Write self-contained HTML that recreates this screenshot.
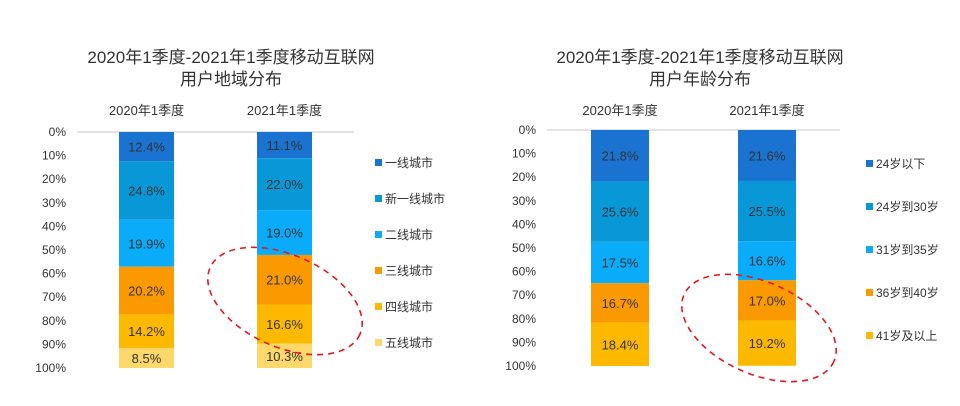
<!DOCTYPE html>
<html><head><meta charset="utf-8">
<style>
html,body{margin:0;padding:0;background:#fff;}
svg{display:block;font-family:"Liberation Sans","Noto Sans CJK SC",sans-serif;}
</style></head>
<body>
<svg id="c" width="960" height="406" viewBox="0 0 960 406" xmlns="http://www.w3.org/2000/svg"></svg>
<script>
const ticks = ["0%","10%","20%","30%","40%","50%","60%","70%","80%","90%","100%"];
const categories = ["2020年1季度","2021年1季度"];
const regionSeries = ["一线城市","新一线城市","二线城市","三线城市","四线城市","五线城市"];
const region2020 = [12.4,24.8,19.9,20.2,14.2,8.5];
const region2021 = [11.1,22.0,19.0,21.0,16.6,10.3];
const ageSeries = ["24岁以下","24岁到30岁","31岁到35岁","36岁到40岁","41岁及以上"];
const age2020 = [21.8,25.6,17.5,16.7,18.4];
const age2021 = [21.6,25.5,16.6,17.0,19.2];
const colors = ["#1a73d0","#0898d8","#0aabf9","#fa9a00","#fdb900","#fed86a"];

const NS="http://www.w3.org/2000/svg";
const svg=document.getElementById('c');
function mk(tag,attrs,parent){const e=document.createElementNS(NS,tag);for(const k in attrs)e.setAttribute(k,attrs[k]);(parent||svg).appendChild(e);return e;}
function txt(x,y,s,size,anchor,parent){const t=mk('text',{x:x,y:y,'font-size':size,'text-anchor':anchor||'middle',fill:'#333'},parent);t.textContent=s;return t;}

function chart(cfg){
  const g=mk('g',{});
  
  
  const y=v=>cfg.top+(cfg.bottom-cfg.top)*v/100;
  const t1=txt(cfg.cx,63,cfg.title1,17,'middle',g);
  
  
  const t2=txt(cfg.cx,85,cfg.title2,17,'middle',g);
  
  
  ticks.forEach((s,i)=>{
    const t=txt(cfg.tickX,y(i*10)+4,s,12,'end',g);
    
    
  });
  const ax=mk('line',{x1:cfg.axX1,x2:cfg.axX2,y1:cfg.top,y2:cfg.top,stroke:'#d9d9d9','stroke-width':1.5},g);
  
  
  cfg.data.forEach((vals,ci)=>{
    const bx=cfg.barX[ci];
    const cl=txt(bx+cfg.barW/2,115,categories[ci],13,'middle',g);
    
    
    let acc=0;
    vals.forEach((v,si)=>{
      const r=mk('rect',{x:bx,y:y(acc),width:cfg.barW,height:y(acc+v)-y(acc),fill:colors[si]},g);
      
      
      const lt=txt(bx+cfg.barW/2,y(acc+v/2)+5,v.toFixed(1)+'%',13,'middle',g);
      
      
      acc+=v;
    });
  });
  cfg.series.forEach((s,i)=>{
    const ly=cfg.legY0+i*cfg.legDy;
    const sq=mk('rect',{x:cfg.legX,y:ly-4,width:7,height:7,fill:colors[i]},g);
    
    
    const lt=txt(cfg.legX+10,ly+4,s,12,'start',g);
    
    
  });
  const el=mk('ellipse',{cx:cfg.ell[0],cy:cfg.ell[1],rx:82,ry:46,fill:'none',stroke:'#e8151b','stroke-width':1.6,'stroke-dasharray':'6 5',transform:'rotate(24 '+cfg.ell[0]+' '+cfg.ell[1]+')'},g);
  
  
}
chart({name:'region-chart',cx:231,title1:'2020年1季度-2021年1季度移动互联网',title2:'用户地域分布',
  top:132,bottom:368,tickX:66,axX1:77,axX2:354,barX:[119,257],barW:55,data:[region2020,region2021],
  series:regionSeries,legX:375,legY0:163,legDy:36,ell:[285,301]});
chart({name:'age-chart',cx:700,title1:'2020年1季度-2021年1季度移动互联网',title2:'用户年龄分布',
  top:130,bottom:366,tickX:536,axX1:547,axX2:840,barX:[591,738],barW:58,data:[age2020,age2021],
  series:ageSeries,legX:866,legY0:164,legDy:43,ell:[759,328]});
</script>
</body></html>
